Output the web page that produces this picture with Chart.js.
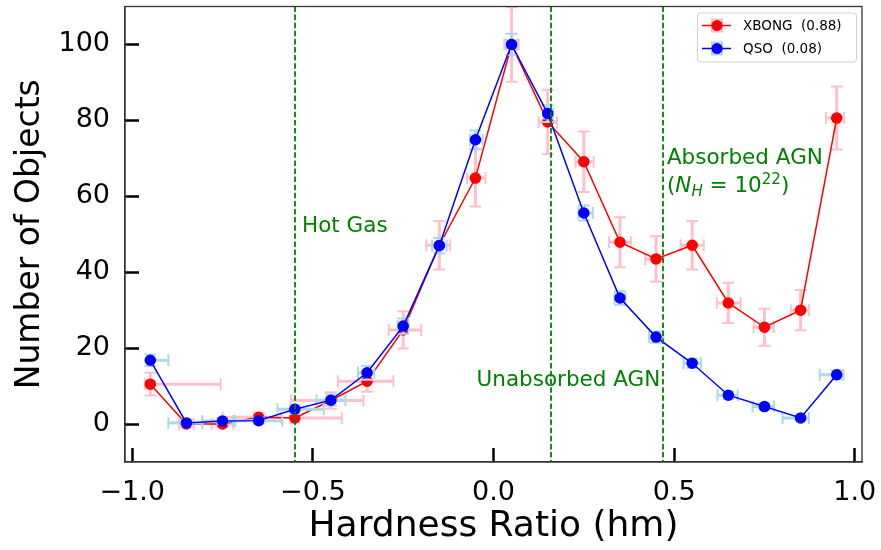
<!DOCTYPE html>
<html>
<head>
<meta charset="utf-8">
<script src="https://cdn.jsdelivr.net/npm/chart.js@4.4.1/dist/chart.umd.min.js"></script>
<style>
  html, body { margin: 0; padding: 0; background: #fff; }
</style>
</head>
<body>
<canvas id="hrChart" width="881" height="550"></canvas>
<script>
// centres of the hardness ratio bins
const hrBins = [-0.95, -0.85, -0.75, -0.65, -0.55, -0.45, -0.35, -0.25, -0.15, -0.05,
                0.05, 0.15, 0.25, 0.35, 0.45, 0.55, 0.65, 0.75, 0.85, 0.95];

// XBONG (normalised counts)
const xbongCounts = [10.5, 0.0, 0.0, 1.8, 1.6, 6.2, 11.3, 24.8, 47.1, 64.8,
                     100, 79.6, 69.1, 47.9, 43.5, 47.1, 31.9, 25.5, 30.0, 80.6];
const xbongYErr = [3.0, 0.8, 0.8, 1.2, 1.2, 2.2, 2.8, 4.9, 6.4, 7.5,
                   9.8, 8.5, 8.0, 6.6, 6.0, 6.4, 5.3, 4.9, 5.3, 8.3];
const xbongXLo = [-0.965, -0.87, -0.78, -0.75, -0.56, -0.56, -0.43, -0.29, -0.186, -0.073,
                  0.03, 0.125, 0.227, 0.32, 0.42, 0.518, 0.618, 0.72, 0.823, 0.92];
const xbongXHi = [-0.755, -0.83, -0.72, -0.59, -0.42, -0.36, -0.277, -0.20, -0.12, -0.022,
                  0.07, 0.176, 0.277, 0.38, 0.47, 0.582, 0.684, 0.776, 0.873, 0.97];

// QSO (normalised counts)
const qsoCounts = [16.8, 0.3, 0.8, 0.9, 3.9, 6.3, 13.5, 25.8, 47.0, 74.9,
                   100, 81.8, 55.6, 33.2, 22.9, 16.0, 7.6, 4.6, 1.6, 13.0];
const qsoYErr = [1.5, 0.8, 0.8, 0.8, 1.2, 1.5, 1.8, 2.0, 2.0, 2.4,
                 2.8, 2.2, 2.0, 1.8, 1.5, 1.2, 1.0, 0.8, 0.6, 1.2];
const qsoXLo = [-0.955, -0.90, -0.806, -0.715, -0.598, -0.49, -0.375, -0.265, -0.17, -0.065,
                0.035, 0.14, 0.235, 0.335, 0.43, 0.526, 0.62, 0.717, 0.80, 0.903];
const qsoXHi = [-0.90, -0.806, -0.72, -0.585, -0.47, -0.41, -0.33, -0.235, -0.13, -0.03,
                0.065, 0.165, 0.275, 0.365, 0.47, 0.574, 0.676, 0.776, 0.873, 0.969];

const seriesNames = ['XBONG  (0.88)', 'QSO  (0.08)'];
const xTicks = [-1.0, -0.5, 0.0, 0.5, 1.0];
const yTicks = [0, 20, 40, 60, 80, 100];
const regionLines = [-0.55, 0.16, 0.47];

const FONT = '"DejaVu Sans", sans-serif';

function toPoints(counts) {
    return hrBins.map((x, i) => ({ x: x, y: counts[i] }));
}

// error bars are drawn just before their own dataset
const errorBars = {
    id: 'errorBars',
    beforeDatasetDraw(chart, args) {
        const ds = chart.data.datasets[args.index];
        const xs = chart.scales.x, ys = chart.scales.y;
        const ctx = chart.ctx, a = chart.chartArea;
        ctx.save();
        ctx.beginPath();
        ctx.rect(a.left, a.top, a.right - a.left, a.bottom - a.top);
        ctx.clip();
        ctx.strokeStyle = ds.errColor;
        ds.data.forEach((p, i) => {
            const px = xs.getPixelForValue(p.x), py = ys.getPixelForValue(p.y);
            const top = ys.getPixelForValue(p.y + ds.yErr[i]);
            const bot = ys.getPixelForValue(p.y - ds.yErr[i]);
            const l = xs.getPixelForValue(ds.xLo[i]), r = xs.getPixelForValue(ds.xHi[i]);
            ctx.lineWidth = 3;
            ctx.beginPath();
            ctx.moveTo(px, top); ctx.lineTo(px, bot);
            ctx.moveTo(l, py); ctx.lineTo(r, py);
            ctx.stroke();
            ctx.lineWidth = 2;
            ctx.beginPath();
            ctx.moveTo(px - 6, top); ctx.lineTo(px + 6, top);
            ctx.moveTo(px - 6, bot); ctx.lineTo(px + 6, bot);
            ctx.moveTo(l, py - 6); ctx.lineTo(l, py + 6);
            ctx.moveTo(r, py - 6); ctx.lineTo(r, py + 6);
            ctx.stroke();
        });
        ctx.restore();
    }
};

// draws "(N_H = 10^22)" piece by piece
function drawNH(ctx, x, y, size) {
    const small = size * 0.7;
    const parts = [
        { t: '(', f: size + 'px ' + FONT, dy: 0 },
        { t: 'N', f: 'italic ' + size + 'px ' + FONT, dy: 0 },
        { t: 'H', f: 'italic ' + small + 'px ' + FONT, dy: size * 0.22 },
        { t: ' = ', f: size + 'px ' + FONT, dy: 0 },
        { t: '10', f: size + 'px ' + FONT, dy: 0 },
        { t: '22', f: small + 'px ' + FONT, dy: -size * 0.38 },
        { t: ')', f: size + 'px ' + FONT, dy: 0 }
    ];
    let cx = x;
    parts.forEach(p => {
        ctx.font = p.f;
        ctx.fillText(p.t, cx, y + p.dy);
        cx += ctx.measureText(p.t).width;
    });
}

const decorations = {
    id: 'decorations',
    afterDatasetsDraw(chart) {
        const ctx = chart.ctx, a = chart.chartArea;
        const xs = chart.scales.x, ys = chart.scales.y;
        ctx.save();
        // region separators
        ctx.strokeStyle = '#008000';
        ctx.lineWidth = 1.8;
        ctx.setLineDash([5.5, 2.6]);
        regionLines.forEach(v => {
            const px = Math.round(xs.getPixelForValue(v));
            ctx.beginPath();
            ctx.moveTo(px, a.top);
            ctx.lineTo(px, a.bottom);
            ctx.stroke();
        });
        ctx.setLineDash([]);

        // region labels
        ctx.fillStyle = '#008000';
        ctx.textBaseline = 'alphabetic';
        ctx.textAlign = 'left';
        ctx.font = '21.5px ' + FONT;
        ctx.fillText('Hot Gas', xs.getPixelForValue(-0.53), ys.getPixelForValue(50.5));
        ctx.fillText('Unabsorbed AGN', xs.getPixelForValue(-0.047), ys.getPixelForValue(10));
        ctx.fillText('Absorbed AGN', xs.getPixelForValue(0.48), ys.getPixelForValue(68.4));
        drawNH(ctx, xs.getPixelForValue(0.48), ys.getPixelForValue(61.2), 21.5);

        // frame
        ctx.strokeStyle = '#333';
        ctx.lineWidth = 1.3;
        ctx.strokeRect(a.left, a.top, a.right - a.left, a.bottom - a.top);
        ctx.restore();
    },
    afterDraw(chart) {
        const ctx = chart.ctx, a = chart.chartArea;
        const bx = a.right - 165, by = a.top + 6, bw = 159, bh = 49;
        ctx.save();
        ctx.fillStyle = 'rgba(255,255,255,0.8)';
        ctx.strokeStyle = '#d0d0d0';
        ctx.lineWidth = 1;
        ctx.beginPath();
        ctx.roundRect(bx + 0.5, by + 0.5, bw, bh, 3);
        ctx.fill();
        ctx.stroke();
        chart.data.datasets.forEach((ds, i) => {
            const cy = by + 13 + i * 23;
            const mx = bx + 20;
            ctx.strokeStyle = ds.errColor;
            ctx.lineWidth = 2;
            ctx.strokeRect(mx - 5, cy - 6, 10, 12);
            ctx.strokeStyle = ds.borderColor;
            ctx.lineWidth = 1.5;
            ctx.beginPath();
            ctx.moveTo(bx + 5, cy);
            ctx.lineTo(bx + 34, cy);
            ctx.stroke();
            ctx.fillStyle = ds.borderColor;
            ctx.beginPath();
            ctx.arc(mx, cy, 5.5, 0, Math.PI * 2);
            ctx.fill();
            ctx.fillStyle = '#000';
            ctx.font = '13.5px ' + FONT;
            ctx.textBaseline = 'middle';
            ctx.fillText(seriesNames[i], bx + 46, cy + 1);
        });
        ctx.restore();
    }
};

const fmtX = v => (v < 0 ? '\u2212' : '') + Math.abs(v).toFixed(1);

// drop the label overflow padding Chart.js adds, layout.padding sets the frame
function noPad(axis) {
    axis.paddingTop = 0;
    axis.paddingBottom = 0;
    axis.paddingLeft = 0;
    axis.paddingRight = 0;
}

const ctx = document.getElementById('hrChart').getContext('2d');
const hrChart = new Chart(ctx, {
    type: 'line',
    data: {
        datasets: [
            {
                label: seriesNames[0],
                data: toPoints(xbongCounts),
                yErr: xbongYErr, xLo: xbongXLo, xHi: xbongXHi,
                errColor: '#ffc0cb',
                borderColor: '#ff0000',
                backgroundColor: '#ff0000',
                borderWidth: 1.5,
                pointRadius: 5,
                pointBorderWidth: 1.5,
                tension: 0,
                order: 2
            },
            {
                label: seriesNames[1],
                data: toPoints(qsoCounts),
                yErr: qsoYErr, xLo: qsoXLo, xHi: qsoXHi,
                errColor: '#add8e6',
                borderColor: '#0000ff',
                backgroundColor: '#0000ff',
                borderWidth: 1.5,
                pointRadius: 5,
                pointBorderWidth: 1.5,
                tension: 0,
                order: 1
            }
        ]
    },
    options: {
        responsive: false,
        animation: false,
        layout: { padding: { top: 4, right: 19, left: 0, bottom: 0 } },
        plugins: {
            legend: { display: false },
            tooltip: { enabled: false }
        },
        scales: {
            x: {
                type: 'linear',
                min: -1.02,
                max: 1.02,
                afterBuildTicks: axis => { axis.ticks = xTicks.map(v => ({ value: v })); },
                afterFit: axis => { axis.height = 88; noPad(axis); },
                ticks: {
                    callback: v => fmtX(v),
                    font: { family: FONT, size: 27 },
                    color: '#000',
                    padding: 29,
                    maxRotation: 0,
                    autoSkip: false
                },
                grid: { drawOnChartArea: false, drawTicks: true, tickLength: -14, tickWidth: 2.5, tickColor: '#000' },
                border: { display: true, color: '#333', width: 1.3 },
                title: {
                    display: true,
                    text: 'Hardness Ratio (hm)',
                    font: { family: FONT, size: 36 },
                    color: '#000',
                    padding: { top: 0, bottom: 2 }
                }
            },
            y: {
                min: -10,
                max: 110,
                afterBuildTicks: axis => { axis.ticks = yTicks.map(v => ({ value: v })); },
                afterFit: axis => { axis.width = 125; noPad(axis); },
                ticks: {
                    font: { family: FONT, size: 27 },
                    color: '#000',
                    padding: 29
                },
                grid: { drawOnChartArea: false, drawTicks: true, tickLength: -14, tickWidth: 2.5, tickColor: '#000' },
                border: { display: true, color: '#333', width: 1.3 },
                title: {
                    display: true,
                    text: 'Number of Objects',
                    font: { family: FONT, size: 33 },
                    color: '#000',
                    padding: { top: 11, bottom: 0 }
                }
            }
        }
    },
    plugins: [errorBars, decorations]
});
</script>
</body>
</html>
